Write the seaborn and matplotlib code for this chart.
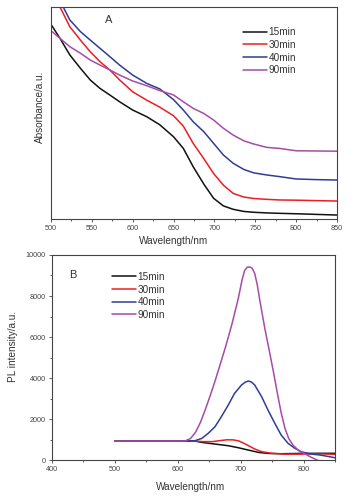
import pandas as pd
import numpy as np
import seaborn as sns
import matplotlib
matplotlib.use("Agg")
import matplotlib.pyplot as plt
from matplotlib.ticker import MultipleLocator

# Panel A - absorbance (arbitrary units)
times = ["15min", "30min", "40min", "90min"]
colors = ["#111111", "#ee1c24", "#2e3d96", "#a64ca6"]

wl_abs = [500, 511, 523, 536, 548, 560, 572, 584, 600, 617, 633, 650, 662, 674, 687, 699, 711, 723, 736, 748, 764, 780, 800, 825, 850]
abs_15 = [0.918, 0.852, 0.774, 0.711, 0.656, 0.616, 0.585, 0.553, 0.514, 0.483, 0.445, 0.388, 0.333, 0.247, 0.165, 0.098, 0.062, 0.046, 0.036, 0.032, 0.029, 0.027, 0.025, 0.022, 0.019]
abs_30 = [1.08, 1.0, 0.907, 0.844, 0.789, 0.742, 0.703, 0.656, 0.600, 0.561, 0.528, 0.487, 0.438, 0.357, 0.285, 0.215, 0.160, 0.121, 0.104, 0.097, 0.093, 0.090, 0.089, 0.087, 0.085]
abs_40 = [1.11, 1.03, 0.939, 0.884, 0.844, 0.805, 0.766, 0.726, 0.679, 0.640, 0.614, 0.563, 0.514, 0.459, 0.412, 0.357, 0.302, 0.263, 0.234, 0.218, 0.208, 0.200, 0.189, 0.186, 0.184]
abs_90 = [0.888, 0.852, 0.813, 0.782, 0.750, 0.726, 0.703, 0.679, 0.651, 0.629, 0.606, 0.585, 0.553, 0.522, 0.498, 0.467, 0.428, 0.396, 0.369, 0.354, 0.338, 0.333, 0.322, 0.321, 0.320]

# Panel B - PL intensity
wl_pl_15 = [500, 600, 627, 638, 659, 680, 696, 712, 728, 743, 764, 796, 820, 850]
pl_15 = [927, 927, 927, 862, 781, 700, 602, 488, 374, 325, 309, 325, 330, 330]
wl_pl_30 = [500, 600, 627, 640, 655, 667, 678, 688, 697, 706, 714, 722, 733, 749, 770, 791, 810, 830, 850]
pl_30 = [927, 927, 927, 900, 900, 950, 990, 985, 930, 800, 670, 540, 410, 330, 290, 290, 300, 300, 280]
wl_pl_40 = [500, 600, 610, 627, 638, 648, 659, 669, 680, 690, 701, 707, 712, 717, 722, 733, 743, 754, 764, 775, 786, 796, 810, 825, 838, 850]
pl_40 = [927, 927, 927, 943, 1057, 1301, 1627, 2114, 2684, 3253, 3660, 3800, 3855, 3800, 3660, 3090, 2440, 1789, 1220, 813, 569, 407, 300, 250, 180, 110]
wl_pl_90 = [500, 600, 611, 620, 628, 636, 644, 652, 660, 668, 676, 686, 696, 702, 706, 710, 714, 718, 722, 726, 730, 738, 746, 752, 758, 764, 770, 776, 783, 793, 800, 812, 825, 838, 850]
pl_90 = [927, 927, 930, 1050, 1350, 1850, 2500, 3200, 3950, 4750, 5550, 6650, 7890, 8800, 9250, 9400, 9420, 9350, 9100, 8550, 7800, 6425, 5200, 4250, 3250, 2300, 1550, 1050, 720, 430, 330, 130, -50, -250, -400]

abs_df = pd.concat([pd.DataFrame({"wl": wl_abs, "val": v, "time": t})
                    for v, t in zip([abs_15, abs_30, abs_40, abs_90], times)])
pl_df = pd.concat([pd.DataFrame({"wl": w, "val": v, "time": t})
                   for w, v, t in zip([wl_pl_15, wl_pl_30, wl_pl_40, wl_pl_90],
                                      [pl_15, pl_30, pl_40, pl_90], times)])

sns.set_theme(style="ticks")
plt.rcParams["font.family"] = ["Liberation Sans", "DejaVu Sans"]
plt.rcParams["axes.edgecolor"] = "#444444"
plt.rcParams["xtick.color"] = "#444444"
plt.rcParams["ytick.color"] = "#444444"
plt.rcParams["text.color"] = "#333333"
plt.rcParams["axes.labelcolor"] = "#333333"

fig = plt.figure(figsize=(3.53, 4.99), dpi=100)
ax1 = fig.add_axes([0.1445, 0.561, 0.810, 0.425])
ax2 = fig.add_axes([0.147, 0.078, 0.803, 0.411])

for ax, df in [(ax1, abs_df), (ax2, pl_df)]:
    sns.lineplot(data=df, x="wl", y="val", hue="time", palette=colors, estimator=None,
                 sort=False, linewidth=1.1, ax=ax)
    for s in ax.spines.values():
        s.set_visible(True)
        s.set_linewidth(0.8)
    ax.tick_params(which="major", length=2.5, width=0.6, labelsize=5.2, pad=2)
    ax.tick_params(which="minor", length=1.5, width=0.6)
    ax.set_xlabel("Wavelength/nm", fontsize=7.2)
    ax.get_legend().remove()

# panel A
ax1.set_xlim(500, 850)
ax1.set_ylim(0, 1)
ax1.xaxis.set_major_locator(MultipleLocator(50))
ax1.xaxis.set_minor_locator(MultipleLocator(25))
ax1.set_yticks([])
ax1.set_ylabel("Absorbance/a.u.", fontsize=7.2)
ax1.yaxis.set_label_coords(-0.022, 0.53)
ax1.xaxis.set_label_coords(0.427, -0.08)
ax1.text(0.2, 0.94, "A", transform=ax1.transAxes, fontsize=8, ha="center", va="center")
ax1.legend(frameon=False, loc="upper left", bbox_to_anchor=(0.672, 0.905), borderaxespad=0,
           borderpad=0, fontsize=7.2, handlelength=2.4, handletextpad=0.15, labelspacing=0.27)

# panel B
ax2.set_xlim(400, 850)
ax2.set_ylim(0, 10000)
ax2.xaxis.set_major_locator(MultipleLocator(100))
ax2.xaxis.set_minor_locator(MultipleLocator(50))
ax2.yaxis.set_major_locator(MultipleLocator(2000))
ax2.yaxis.set_minor_locator(MultipleLocator(1000))
ax2.set_ylabel("PL intensity/a.u.", fontsize=7.2)
ax2.yaxis.set_label_coords(-0.12, 0.556)
ax2.xaxis.set_label_coords(0.49, -0.107)
ax2.text(0.075, 0.90, "B", transform=ax2.transAxes, fontsize=8, ha="center", va="center")
ax2.legend(frameon=False, loc="upper left", bbox_to_anchor=(0.212, 0.918), borderaxespad=0,
           borderpad=0, fontsize=7.2, handlelength=2.4, handletextpad=0.15, labelspacing=0.27)

fig.savefig("out.png", dpi=100)
